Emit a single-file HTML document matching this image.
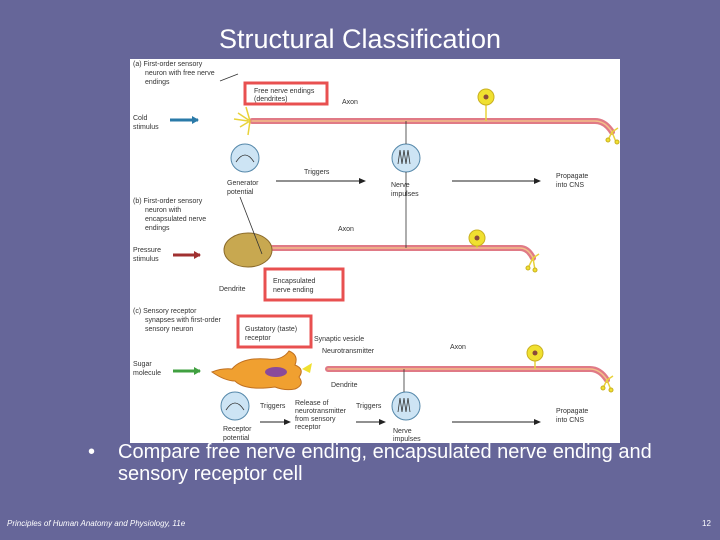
<!DOCTYPE html>
<html><head><meta charset="utf-8"><style>
body{margin:0;width:720px;height:540px;background:#666699;position:relative;overflow:hidden;font-family:"Liberation Sans",sans-serif}
.t{position:absolute;color:#fff}
</style></head><body>
<div class="t" style="left:0;width:720px;top:24px;text-align:center;font-size:27px">Structural Classification</div>
<svg style="position:absolute;left:130px;top:59px" width="490" height="384" viewBox="130 59 490 384" font-family="Liberation Sans, sans-serif" font-size="7" fill="#333">
<rect x="130" y="59" width="490" height="384" fill="#fff"/>
<defs>
<marker id="ar" markerUnits="userSpaceOnUse" markerWidth="7" markerHeight="6" refX="6" refY="3" orient="auto"><path d="M0,0L7,3L0,6z" fill="#222"/></marker>
<marker id="ab" markerUnits="userSpaceOnUse" markerWidth="7" markerHeight="8" refX="6" refY="4" orient="auto"><path d="M0,0L7,4L0,8z" fill="#2a7aa8"/></marker>
<marker id="arr" markerUnits="userSpaceOnUse" markerWidth="7" markerHeight="8" refX="6" refY="4" orient="auto"><path d="M0,0L7,4L0,8z" fill="#a03030"/></marker>
<marker id="ag" markerUnits="userSpaceOnUse" markerWidth="7" markerHeight="8" refX="6" refY="4" orient="auto"><path d="M0,0L7,4L0,8z" fill="#40a040"/></marker>
</defs>
<g stroke-linecap="round">
<path d="M252,121 H595 Q605,121 612,132" stroke="#e07a86" stroke-width="6" fill="none"/>
<path d="M252,121 H595 Q605,121 612,132" stroke="#f3c08a" stroke-width="1.5" fill="none"/>
<path d="M272,248 H520 Q528,248 533,258" stroke="#e07a86" stroke-width="6" fill="none"/>
<path d="M272,248 H520 Q528,248 533,258" stroke="#f3c08a" stroke-width="1.5" fill="none"/>
<path d="M328,369 H590 Q600,369 607,380" stroke="#e07a86" stroke-width="6" fill="none"/>
<path d="M328,369 H590 Q600,369 607,380" stroke="#f3c08a" stroke-width="1.5" fill="none"/>
</g>
<g stroke="#e8d23a" stroke-width="1.5" fill="none">
<path d="M612,132 l6,-4 M612,132 l4,10 M612,132 l-4,8"/>
<path d="M533,258 l6,-4 M533,258 l2,12 M533,258 l-5,10"/>
<path d="M607,380 l6,-4 M607,380 l4,10 M607,380 l-4,8"/>
<path d="M250,121 l-12,-8 M250,121 l-10,6 M250,121 l-4,-14 M250,121 l-2,14 M248,121 l-14,-2"/>
<line x1="486" y1="105" x2="486" y2="121"/><line x1="477" y1="246" x2="477" y2="248"/><line x1="535" y1="360" x2="535" y2="369"/>
</g>
<g fill="#f0e030" stroke="#c9b020">
<circle cx="486" cy="97" r="8"/><circle cx="477" cy="238" r="8"/><circle cx="535" cy="353" r="8"/>
<circle cx="617" cy="142" r="2"/><circle cx="608" cy="140" r="2"/><circle cx="535" cy="270" r="2"/><circle cx="528" cy="268" r="2"/><circle cx="611" cy="390" r="2"/><circle cx="603" cy="388" r="2"/>
</g>
<g fill="#8a4a3a"><circle cx="486" cy="97" r="2.5"/><circle cx="477" cy="238" r="2.5"/><circle cx="535" cy="353" r="2.5"/></g>
<ellipse cx="248" cy="250" rx="24" ry="17" fill="#c8a850" stroke="#8a6a2a"/>
<path d="M212,372 q10,-4 20,-3 q10,-12 35,-10 q15,2 22,-8 q10,4 6,14 q10,4 4,12 q6,8 -4,12 q-10,2 -20,-2 q-30,4 -40,-6 q-10,0 -23,-9z" fill="#f0a030" stroke="#c07020"/>
<ellipse cx="276" cy="372" rx="11" ry="5" fill="#8a4a9a"/>
<path d="M302,369 l10,-6 l-2,10z" fill="#f0e030"/>
<g fill="#cde4f4" stroke="#5588aa">
<circle cx="245" cy="158" r="14"/><circle cx="406" cy="158" r="14"/><circle cx="235" cy="406" r="14"/><circle cx="406" cy="406" r="14"/>
</g>
<g stroke="#333" fill="none" stroke-width="0.8">
<path d="M236,162 q9,-14 18,0"/><path d="M226,410 q9,-14 18,0"/>
<path d="M398,164 l2,-14 l2,14 l2,-14 l2,14 l2,-14 l2,14"/><path d="M398,412 l2,-14 l2,14 l2,-14 l2,14 l2,-14 l2,14"/>
<line x1="406" y1="121" x2="406" y2="144"/><line x1="406" y1="172" x2="406" y2="248"/><line x1="404" y1="369" x2="404" y2="392"/>
<line x1="240" y1="197" x2="262" y2="254"/><line x1="220" y1="81" x2="238" y2="74"/>
</g>
<g stroke="#222" stroke-width="1" fill="none" marker-end="url(#ar)">
<line x1="276" y1="181" x2="365" y2="181"/><line x1="452" y1="181" x2="540" y2="181"/>
<line x1="452" y1="422" x2="540" y2="422"/><line x1="260" y1="422" x2="290" y2="422"/><line x1="356" y1="422" x2="385" y2="422"/>
</g>
<line x1="170" y1="120" x2="198" y2="120" stroke="#2a7aa8" stroke-width="3" marker-end="url(#ab)"/>
<line x1="173" y1="255" x2="200" y2="255" stroke="#a03030" stroke-width="3" marker-end="url(#arr)"/>
<line x1="173" y1="371" x2="200" y2="371" stroke="#40a040" stroke-width="3" marker-end="url(#ag)"/>
<g fill="none" stroke="#e85050" stroke-width="3">
<rect x="245" y="83" width="82" height="21"/><rect x="265" y="269" width="78" height="31"/><rect x="238" y="316" width="73" height="31"/>
</g>
<text x="133" y="66">(a) First-order sensory</text><text x="145" y="75">neuron with free nerve</text><text x="145" y="84">endings</text>
<text x="254" y="93">Free nerve endings</text><text x="254" y="101">(dendrites)</text><text x="342" y="104">Axon</text>
<text x="133" y="120">Cold</text><text x="133" y="129">stimulus</text>
<text x="304" y="174">Triggers</text><text x="227" y="185">Generator</text><text x="227" y="194">potential</text>
<text x="391" y="187">Nerve</text><text x="391" y="196">impulses</text><text x="556" y="178">Propagate</text><text x="556" y="187">into CNS</text>
<text x="133" y="203">(b) First-order sensory</text><text x="145" y="212">neuron with</text><text x="145" y="221">encapsulated nerve</text><text x="145" y="230">endings</text>
<text x="338" y="231">Axon</text><text x="133" y="252">Pressure</text><text x="133" y="261">stimulus</text>
<text x="219" y="291">Dendrite</text><text x="273" y="283">Encapsulated</text><text x="273" y="292">nerve ending</text>
<text x="133" y="313">(c) Sensory receptor</text><text x="145" y="322">synapses with first-order</text><text x="145" y="331">sensory neuron</text>
<text x="245" y="331">Gustatory (taste)</text><text x="245" y="340">receptor</text><text x="314" y="341">Synaptic vesicle</text><text x="322" y="353">Neurotransmitter</text>
<text x="450" y="349">Axon</text><text x="133" y="366">Sugar</text><text x="133" y="375">molecule</text><text x="331" y="387">Dendrite</text>
<text x="260" y="408">Triggers</text><text x="295" y="405">Release of</text><text x="295" y="413">neurotransmitter</text><text x="295" y="421">from sensory</text><text x="295" y="429">receptor</text>
<text x="356" y="408">Triggers</text><text x="223" y="431">Receptor</text><text x="223" y="440">potential</text>
<text x="393" y="433">Nerve</text><text x="393" y="441">impulses</text><text x="556" y="413">Propagate</text><text x="556" y="422">into CNS</text>
</svg>
<div class="t" style="left:88px;top:441px;font-size:20px;line-height:22px">•</div>
<div class="t" style="left:118px;top:441px;font-size:20px;line-height:22px;white-space:nowrap">Compare free nerve ending, encapsulated nerve ending and</div>
<div class="t" style="left:118px;top:463px;font-size:20px;line-height:22px">sensory receptor cell</div>
<div class="t" style="left:7px;top:519px;font-size:8px;font-style:italic">Principles of Human Anatomy and Physiology, 11e</div>
<div class="t" style="left:702px;top:519px;font-size:8px">12</div>
</body></html>
